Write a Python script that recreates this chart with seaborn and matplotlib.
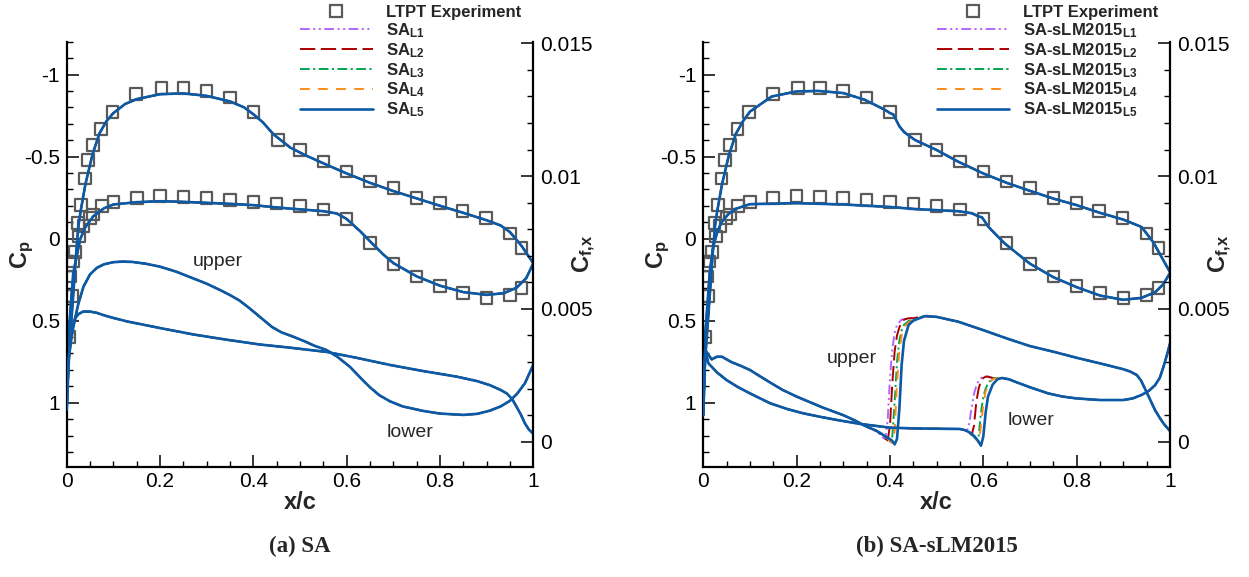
import numpy as np
import matplotlib
matplotlib.use("Agg")
import matplotlib.pyplot as plt
import seaborn as sns
from matplotlib.ticker import MultipleLocator, FuncFormatter
from matplotlib.lines import Line2D

# ------------------------------------------------------------------ data
# LTPT experiment (same data in both panels)
exp_x = [0.0, 0.011, 0.005, 0.008, 0.013, 0.018, 0.027, 0.024, 0.036, 0.031,
         0.05, 0.057, 0.075, 0.10, 0.15, 0.20, 0.25, 0.30, 0.35, 0.40, 0.45,
         0.50, 0.55, 0.60, 0.65, 0.70, 0.75, 0.80, 0.85, 0.90, 0.95, 0.975,
         0.039, 0.046, 0.057, 0.073, 0.0985, 0.149, 0.2035, 0.25, 0.30, 0.35,
         0.40, 0.453, 0.50, 0.55, 0.60, 0.65, 0.70, 0.75, 0.80, 0.848, 0.898,
         0.95, 0.975]
exp_cp = [0.35, 0.35, 0.60, 0.23, 0.14, 0.08, -0.014, -0.096, -0.075, -0.204,
          -0.127, -0.147, -0.198, -0.222, -0.249, -0.259, -0.255, -0.249, -0.234,
          -0.224, -0.214, -0.198, -0.177, -0.12, 0.026, 0.153, 0.23, 0.29, 0.33,
          0.363, 0.343, 0.30,
          -0.367, -0.479, -0.569, -0.667, -0.772, -0.881, -0.916, -0.916, -0.90,
          -0.86, -0.772, -0.60, -0.54, -0.469, -0.408, -0.347, -0.31, -0.249,
          -0.218, -0.167, -0.126, -0.03, 0.057]

# (a) SA  -- all five grid levels coincide
sa_cpu_x = [0.0, 0.002, 0.005, 0.01, 0.015, 0.02, 0.025, 0.03, 0.04, 0.055, 0.07,
            0.085, 0.1, 0.125, 0.15, 0.2, 0.25, 0.3, 0.35, 0.38, 0.4, 0.42,
            0.443, 0.479, 0.51, 0.55, 0.6, 0.65, 0.7, 0.75, 0.8, 0.85, 0.9,
            0.93, 0.95, 0.975, 1.0]
sa_cpu = [1.0, 0.85, 0.7, 0.5, 0.3, 0.1, -0.075, -0.17, -0.33, -0.51, -0.64,
          -0.715, -0.765, -0.82, -0.85, -0.88, -0.885, -0.87, -0.836, -0.80,
          -0.758, -0.71, -0.636, -0.555, -0.51, -0.459, -0.397, -0.34, -0.29,
          -0.245, -0.2, -0.157, -0.112, -0.08, -0.04, 0.045, 0.15]
sa_cpl_x = [0.0, 0.002, 0.005, 0.014, 0.0286, 0.04, 0.057, 0.08, 0.1, 0.15, 0.2,
            0.25, 0.3, 0.35, 0.4, 0.45, 0.479, 0.55, 0.579, 0.6, 0.629, 0.65,
            0.679, 0.7, 0.75, 0.8, 0.85, 0.9, 0.936, 0.964, 0.985, 1.0]
sa_cpl = [1.0, 0.8, 0.55, 0.21, 0.006, -0.07, -0.136, -0.185, -0.208, -0.222,
          -0.228, -0.224, -0.218, -0.212, -0.204, -0.19, -0.183, -0.167, -0.153,
          -0.12, -0.045, 0.016, 0.098, 0.149, 0.23, 0.287, 0.326, 0.343, 0.333,
          0.30, 0.24, 0.15]
sa_cfa_x = [0.0, 0.005, 0.01, 0.014, 0.02, 0.025, 0.036, 0.05, 0.065, 0.08, 0.1,
            0.12, 0.14, 0.17, 0.2, 0.235, 0.271, 0.3, 0.33, 0.35, 0.37, 0.39,
            0.414, 0.44, 0.46, 0.486, 0.51, 0.53, 0.557, 0.58, 0.607, 0.63,
            0.65, 0.67, 0.693, 0.72, 0.764, 0.8, 0.85, 0.88, 0.907, 0.93, 0.95,
            0.965, 0.982, 1.0]
sa_cfa = [0.0012, 0.0032, 0.0039, 0.0043, 0.0048, 0.0052, 0.00584, 0.0063,
          0.00655, 0.00668, 0.00676, 0.00678, 0.00677, 0.0067, 0.00659, 0.0064,
          0.00615, 0.00595, 0.0057, 0.00552, 0.00532, 0.00505, 0.0047, 0.00432,
          0.00412, 0.00395, 0.00378, 0.00362, 0.00345, 0.0032, 0.00282, 0.0024,
          0.00205, 0.00175, 0.00152, 0.00133, 0.00116, 0.00106, 0.00101,
          0.00105, 0.00117, 0.00133, 0.00154, 0.0018, 0.0022, 0.0029]
sa_cfb_x = [0.0, 0.003, 0.007, 0.012, 0.018, 0.025, 0.035, 0.05, 0.065, 0.08,
            0.1, 0.129, 0.2, 0.271, 0.343, 0.414, 0.479, 0.557, 0.621, 0.693,
            0.764, 0.836, 0.88, 0.907, 0.93, 0.943, 0.955, 0.964, 0.974, 0.982,
            0.991, 1.0]
sa_cfb = [0.0012, 0.0028, 0.0037, 0.0043, 0.00465, 0.0048, 0.0049, 0.0049,
          0.00485, 0.00476, 0.00466, 0.00453, 0.00428, 0.00404, 0.00384,
          0.00366, 0.00354, 0.00338, 0.00316, 0.00289, 0.00266, 0.00245,
          0.00228, 0.00213, 0.00195, 0.00182, 0.0016, 0.00132, 0.001, 0.00069,
          0.00045, 0.0003]

# (b) SA-sLM2015
lm_cpu_x = [0.0, 0.002, 0.005, 0.01, 0.015, 0.02, 0.025, 0.03, 0.04, 0.055,
            0.07, 0.085, 0.1, 0.1465, 0.2, 0.246, 0.3, 0.346, 0.389, 0.4, 0.407,
            0.412, 0.42, 0.43, 0.4536, 0.5, 0.546, 0.6, 0.65, 0.7, 0.75, 0.8,
            0.85, 0.9, 0.939, 0.964, 0.986, 1.0]
lm_cpu = [1.0, 0.85, 0.7, 0.5, 0.3, 0.1, -0.075, -0.17, -0.33, -0.51, -0.64,
          -0.715, -0.774, -0.866, -0.897, -0.9, -0.887, -0.846, -0.785, -0.765,
          -0.757, -0.73, -0.685, -0.65, -0.601, -0.54, -0.469, -0.397, -0.34,
          -0.291, -0.244, -0.204, -0.157, -0.116, -0.071, 0.021, 0.133, 0.204]
lm_cpl_x = [0.0, 0.002, 0.005, 0.014, 0.021, 0.03, 0.039, 0.054, 0.068, 0.1,
            0.2, 0.3, 0.4, 0.4536, 0.546, 0.575, 0.59, 0.597, 0.602, 0.61,
            0.625, 0.646, 0.7, 0.75, 0.8, 0.85, 0.9, 0.939, 0.968, 0.985, 1.0]
lm_cpl = [1.0, 0.8, 0.55, 0.2, 0.05, -0.04, -0.1, -0.15, -0.18, -0.21, -0.216,
          -0.208, -0.193, -0.18, -0.167, -0.155, -0.135, -0.13, -0.11, -0.075,
          -0.03, 0.03, 0.153, 0.235, 0.296, 0.347, 0.373, 0.361, 0.327, 0.28,
          0.21]
# upper-surface skin friction: laminar part, transition (per level), turbulent part
lm_cfu_lam_x = [0.0, 0.004, 0.01, 0.018, 0.029, 0.04, 0.06, 0.08, 0.1, 0.12,
                0.146, 0.17, 0.2, 0.227, 0.254, 0.28, 0.3, 0.325, 0.346]
lm_cfu_lam = [0.001, 0.00345, 0.0033, 0.0031, 0.0032, 0.0032, 0.003, 0.00286,
              0.0027, 0.00248, 0.0022, 0.00195, 0.0017, 0.0015, 0.0013, 0.00113,
              0.001, 0.0008, 0.0006]
lm_cfu_tr_x = [0.37, 0.38, 0.385, 0.39, 0.395, 0.40, 0.405, 0.41, 0.415, 0.42,
               0.425, 0.43, 0.44, 0.45]
lm_cfu_tr_L1 = [0.0004, 0.00025, 0.00015, 0.0001, 0.0008, 0.0024, 0.0035, 0.0041,
                0.0044, 0.0045, 0.0046, 0.0046, 0.00465, 0.00465]
lm_cfu_tr_L2 = [0.00042, 0.0003, 0.00022, 0.00012, 0.00005, 0.0006, 0.0022,
                0.0034, 0.004, 0.0043, 0.0045, 0.0046, 0.00465, 0.00465]
lm_cfu_tr_L3 = [0.00042, 0.00032, 0.00026, 0.00018, 0.0001, 0.0, 0.0002, 0.0015,
                0.003, 0.0038, 0.0042, 0.0044, 0.00455, 0.0046]
lm_cfu_tr_L4 = [0.00042, 0.00032, 0.00026, 0.0002, 0.00012, 0.00003, -0.00005,
                0.0004, 0.0022, 0.0034, 0.004, 0.0043, 0.0045, 0.00458]
lm_cfu_tr_L5 = [0.00042, 0.00032, 0.00026, 0.0002, 0.00015, 0.0001, 0.00003,
                -0.0001, 0.0001, 0.0012, 0.0029, 0.0038, 0.0044, 0.00456]
lm_cfu_turb_x = [0.475, 0.5, 0.546, 0.6, 0.65, 0.7, 0.75, 0.8, 0.85, 0.9, 0.915,
                 0.929, 0.938, 0.946, 0.957, 0.968, 0.978, 0.986, 1.0]
lm_cfu_turb = [0.00473, 0.0047, 0.00452, 0.0042, 0.00389, 0.0036, 0.00339,
               0.00316, 0.00295, 0.00273, 0.00264, 0.00251, 0.0023, 0.00201,
               0.0016, 0.00119, 0.0009, 0.00069, 0.0004]
# lower-surface skin friction
lm_cfl_lam_x = [0.0, 0.004, 0.011, 0.03, 0.05, 0.073, 0.1, 0.143, 0.18, 0.214,
                0.25, 0.286, 0.336, 0.4, 0.4536, 0.5]
lm_cfl_lam = [0.001, 0.00345, 0.00295, 0.0026, 0.00232, 0.00207, 0.00182,
              0.00145, 0.00123, 0.00107, 0.00094, 0.00082, 0.00067, 0.00053,
              0.0005, 0.00049]
lm_cfl_tr_x = [0.55, 0.56, 0.565, 0.57, 0.575, 0.58, 0.585, 0.59, 0.595, 0.60,
               0.605, 0.61, 0.62, 0.63, 0.64]
lm_cfl_tr_L1 = [0.00048, 0.00044, 0.0004, 0.0007, 0.0013, 0.0018, 0.0021, 0.0023,
                0.0024, 0.00245, 0.00245, 0.00245, 0.0024, 0.0024, 0.0024]
lm_cfl_tr_L2 = [0.00048, 0.00044, 0.0004, 0.00034, 0.00025, 0.0006, 0.0015,
                0.002, 0.0023, 0.0024, 0.00245, 0.00245, 0.0024, 0.0024, 0.0024]
lm_cfl_tr_L3 = [0.00048, 0.00044, 0.0004, 0.00036, 0.00028, 0.00018, 0.00008,
                0.0002, 0.0011, 0.0017, 0.002, 0.0022, 0.0024, 0.0024, 0.0024]
lm_cfl_tr_L4 = [0.00048, 0.00044, 0.0004, 0.00036, 0.0003, 0.0002, 0.0001,
                -0.00005, 0.0006, 0.0014, 0.0019, 0.0021, 0.00235, 0.0024, 0.0024]
lm_cfl_tr_L5 = [0.00048, 0.00044, 0.0004, 0.00036, 0.0003, 0.00022, 0.00012, 0.0,
                -0.00015, 0.0002, 0.0011, 0.0017, 0.00215, 0.00235, 0.0024]
lm_cfl_turb_x = [0.655, 0.668, 0.7, 0.739, 0.77, 0.8, 0.85, 0.9, 0.92, 0.939,
                 0.955, 0.968, 0.978, 0.986, 0.994, 1.0]
lm_cfl_turb = [0.00235, 0.00226, 0.00205, 0.00182, 0.0017, 0.00163, 0.00157,
               0.00157, 0.00163, 0.00176, 0.00192, 0.00213, 0.0024, 0.00282,
               0.0033, 0.0037]

levels = ["L1", "L2", "L3", "L4", "L5"]
sa_labels = [r"SA$_{\mathbf{%s}}$" % l for l in levels]
lm_labels = [r"SA-sLM2015$_{\mathbf{%s}}$" % l for l in levels]
exp_label = "LTPT Experiment"
captions = ["(a) SA", "(b) SA-sLM2015"]

# ------------------------------------------------------------------ style
sns.set_theme(style="ticks")
plt.rcParams["font.family"] = ["Liberation Sans", "DejaVu Sans"]
plt.rcParams["mathtext.fontset"] = "custom"
plt.rcParams["mathtext.rm"] = "Liberation Sans"
plt.rcParams["mathtext.bf"] = "Liberation Sans:bold"
plt.rcParams["mathtext.it"] = "Liberation Sans:italic"
plt.rcParams["axes.unicode_minus"] = False
plt.rcParams["lines.scale_dashes"] = False

colors = ["#b366ff", "#aa0000", "#00a651", "#ff8c1a", "#0a5aa8"]
styles = [(0, (7, 2.5, 1.5, 2.5, 1.5, 2.5)), (0, (11, 4)), (0, (7, 2.5, 1.5, 2.5)),
          (0, (7, 6)), "-"]
widths = [1.4, 1.4, 1.4, 1.4, 1.9]
EXPC = "#5a5a5a"

W, H = 1249, 577
fig = plt.figure(figsize=(W / 100, H / 100), dpi=100)


def px_axes(x0, x1, y0, y1):
    return fig.add_axes([x0 / W, 1 - y1 / H, (x1 - x0) / W, (y1 - y0) / H])


fmt = FuncFormatter(lambda v, p: "0" if abs(v) < 1e-12 else f"{v:g}")


def style_axes(ax, ax2):
    ax.set_xlim(0, 1)
    ax.set_ylim(1.39, -1.2)
    ax2.set_ylim(-0.00094, 0.01506)
    for s in ["top", "right"]:
        ax.spines[s].set_visible(False)
    for s in ["top", "left", "bottom"]:
        ax2.spines[s].set_visible(False)
    for sp in [ax.spines["left"], ax.spines["bottom"], ax2.spines["right"]]:
        sp.set_linewidth(1.6)
        sp.set_color("black")
    ax.xaxis.set_major_locator(MultipleLocator(0.2))
    ax.xaxis.set_minor_locator(MultipleLocator(0.05))
    ax.yaxis.set_major_locator(MultipleLocator(0.5))
    ax.yaxis.set_minor_locator(MultipleLocator(0.1))
    ax2.yaxis.set_major_locator(MultipleLocator(0.005))
    ax2.yaxis.set_minor_locator(MultipleLocator(0.001))
    for a in (ax.xaxis, ax.yaxis, ax2.yaxis):
        a.set_major_formatter(fmt)
    ax.tick_params(axis="both", which="both", direction="in", top=False,
                   right=False, left=True, bottom=True, colors="black",
                   labelsize=15)
    ax.tick_params(which="major", length=8.5, width=1.1)
    ax.tick_params(which="minor", length=4.5, width=1.0)
    ax.tick_params(axis="y", pad=5)
    ax.tick_params(axis="x", pad=4)
    ax2.tick_params(axis="y", which="both", direction="in", left=False,
                    right=True, colors="black", labelsize=15, pad=5)
    ax2.tick_params(which="major", length=8.5, width=1.1)
    ax2.tick_params(which="minor", length=4.5, width=1.0)
    ax.set_xlabel("x/c", fontsize=17, fontweight="bold")
    ax.xaxis.set_label_coords(0.5, -0.058)
    ax.set_ylabel(r"C$_{\mathbf{p}}$", fontsize=17, fontweight="bold")
    ax.yaxis.set_label_coords(-0.066, 0.5)
    ax2.set_ylabel(r"C$_{\mathbf{f{,}x}}$", fontsize=17, fontweight="bold",
                   rotation=90, va="top")
    ax2.yaxis.set_label_coords(1.08, 0.5)
    ax.grid(False)
    ax2.grid(False)


def line(ax, x, y, i):
    sns.lineplot(x=x, y=y, ax=ax, color=colors[i], lw=widths[i],
                 linestyle=styles[i], sort=False, estimator=None, legend=False)


def legend(anchor_x, labels):
    handles = [Line2D([], [], marker="s", ls="", mfc="none", mec=EXPC, ms=8,
                      mew=1.6)]
    handles += [Line2D([], [], color=colors[i], lw=widths[i], ls=styles[i])
                for i in range(5)]
    fig.legend(handles, [exp_label] + labels, loc="upper left",
               bbox_to_anchor=(anchor_x / W, 1 - 5 / H), frameon=False,
               prop={"weight": "bold", "size": 12}, handlelength=4.35,
               handletextpad=0.8, labelspacing=0.07, borderpad=0,
               borderaxespad=0)


# ---------------------------------------------------------------- panel (a)
axL = px_axes(66.7, 533.3, 41.7, 466.7)
axL2 = axL.twinx()
style_axes(axL, axL2)
sns.scatterplot(x=exp_x, y=exp_cp, ax=axL, marker="s", s=70, color=EXPC,
                facecolor="none", edgecolor=EXPC, linewidth=1.6, legend=False)
for i in range(5):
    line(axL, sa_cpu_x, sa_cpu, i)
    line(axL, sa_cpl_x, sa_cpl, i)
    line(axL2, sa_cfa_x, sa_cfa, i)
    line(axL2, sa_cfb_x, sa_cfb, i)
axL.text(0.324, 0.139, "upper", ha="center", va="center", fontsize=14)
axL.text(0.736, 1.18, "lower", ha="center", va="center", fontsize=14)
legend(300, sa_labels)

# ---------------------------------------------------------------- panel (b)
axR = px_axes(703.3, 1170, 41.7, 466.7)
axR2 = axR.twinx()
style_axes(axR, axR2)
sns.scatterplot(x=exp_x, y=exp_cp, ax=axR, marker="s", s=70, color=EXPC,
                facecolor="none", edgecolor=EXPC, linewidth=1.6, legend=False)
up_tr = [lm_cfu_tr_L1, lm_cfu_tr_L2, lm_cfu_tr_L3, lm_cfu_tr_L4, lm_cfu_tr_L5]
lo_tr = [lm_cfl_tr_L1, lm_cfl_tr_L2, lm_cfl_tr_L3, lm_cfl_tr_L4, lm_cfl_tr_L5]
for i in range(5):
    line(axR, lm_cpu_x, lm_cpu, i)
    line(axR, lm_cpl_x, lm_cpl, i)
    line(axR2, lm_cfu_lam_x + lm_cfu_tr_x + lm_cfu_turb_x,
         lm_cfu_lam + up_tr[i] + lm_cfu_turb, i)
    line(axR2, lm_cfl_lam_x + lm_cfl_tr_x + lm_cfl_turb_x,
         lm_cfl_lam + lo_tr[i] + lm_cfl_turb, i)
axR.text(0.319, 0.73, "upper", ha="center", va="center", fontsize=14)
axR.text(0.702, 1.11, "lower", ha="center", va="center", fontsize=14)
legend(936.7, lm_labels)

# ---------------------------------------------------------------- captions
for cx, cap in zip([300, 936.7], captions):
    fig.text(cx / W, 1 - 546 / H, cap, ha="center", va="center",
             family=["Liberation Serif", "DejaVu Serif"], fontweight="bold",
             fontsize=16.5)

fig.savefig("out.png", dpi=100)
